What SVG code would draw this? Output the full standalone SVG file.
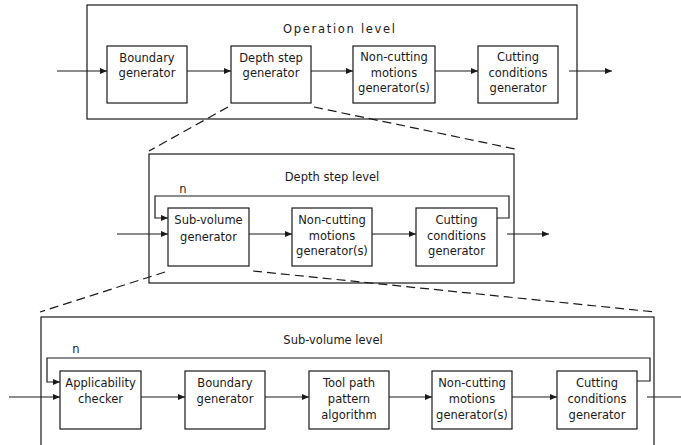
<svg xmlns="http://www.w3.org/2000/svg" width="681" height="445" viewBox="0 0 681 445">
<defs>
<marker id="ah" markerUnits="userSpaceOnUse" markerWidth="8" markerHeight="6" refX="7" refY="3" orient="auto">
<path d="M0,0 L7,3 L0,6 Z" fill="#1a1a1a"/>
</marker>
<style>
rect{fill:#fff;stroke:#1a1a1a;stroke-width:1.2}
.c line,.c path{stroke:#1a1a1a;stroke-width:1.2;fill:none}
.a{marker-end:url(#ah)}
.d{stroke-dasharray:9 5}
text{font-family:"DejaVu Sans","Liberation Sans",sans-serif;font-size:11.5px;fill:#1a1a1a;text-anchor:middle}
.t{text-anchor:start}
</style>
</defs>
<rect width="681" height="445" style="fill:#fff;stroke:none"/>

<g id="operation-level">
<rect x="87" y="5" width="490" height="114"/>
<text class="t" x="283" y="33" letter-spacing="1.7">Operation level</text>
</g>
<g id="op-boundary"><rect x="107" y="46" width="80" height="57"/><text x="147" y="62">Boundary</text><text x="147" y="77">generator</text></g>
<g id="op-depth"><rect x="231" y="46" width="80" height="57"/><text x="271" y="62">Depth step</text><text x="271" y="77">generator</text></g>
<g id="op-noncut"><rect x="353" y="46" width="82" height="57"/><text x="394" y="61">Non-cutting</text><text x="394" y="77">motions</text><text x="394" y="92">generator(s)</text></g>
<g id="op-cutting"><rect x="478" y="46" width="80" height="57"/><text x="518" y="61">Cutting</text><text x="518" y="77">conditions</text><text x="518" y="92">generator</text></g>

<g id="depth-level">
<rect x="149" y="154" width="365" height="129"/>
<text x="332" y="181">Depth step level</text>
</g>
<g id="ds-subvol"><rect x="168" y="208" width="81" height="58"/><text x="208.5" y="224">Sub-volume</text><text x="208.5" y="241">generator</text></g>
<g id="ds-noncut"><rect x="292" y="208" width="80" height="58"/><text x="332" y="224">Non-cutting</text><text x="332" y="240">motions</text><text x="332" y="255">generator(s)</text></g>
<g id="ds-cutting"><rect x="416" y="208" width="81" height="58"/><text x="456.5" y="224">Cutting</text><text x="456.5" y="240">conditions</text><text x="456.5" y="255">generator</text></g>

<g id="subvolume-level">
<rect x="41" y="317" width="613" height="140"/>
<text x="333" y="344">Sub-volume level</text>
</g>
<g id="sv-applic"><rect x="60" y="371" width="81" height="58"/><text x="100.5" y="387">Applicability</text><text x="100.5" y="403">checker</text></g>
<g id="sv-boundary"><rect x="185" y="371" width="80" height="58"/><text x="225" y="387">Boundary</text><text x="225" y="403">generator</text></g>
<g id="sv-toolpath"><rect x="309" y="371" width="80" height="58"/><text x="349" y="387">Tool path</text><text x="349" y="403">pattern</text><text x="349" y="419">algorithm</text></g>
<g id="sv-noncut"><rect x="432" y="371" width="80" height="58"/><text x="472" y="387">Non-cutting</text><text x="472" y="403">motions</text><text x="472" y="419">generator(s)</text></g>
<g id="sv-cutting"><rect x="557" y="371" width="80" height="58"/><text x="597" y="387">Cutting</text><text x="597" y="403">conditions</text><text x="597" y="419">generator</text></g>

<g id="connectors" class="c">
<line class="a" x1="57" y1="71" x2="107" y2="71"/>
<line class="a" x1="187" y1="71" x2="231" y2="71"/>
<line class="a" x1="311" y1="71" x2="353" y2="71"/>
<line class="a" x1="435" y1="71" x2="478" y2="71"/>
<line class="a" x1="569" y1="71" x2="612" y2="71"/>

<line class="a" x1="117" y1="234" x2="168" y2="234"/>
<line class="a" x1="249" y1="234" x2="292" y2="234"/>
<line class="a" x1="372" y1="234" x2="416" y2="234"/>
<line class="a" x1="507" y1="234" x2="549" y2="234"/>
<path class="a" d="M497,218 H509 V196 H155 V218 H168"/>

<line class="a" x1="9" y1="397" x2="60" y2="397"/>
<line class="a" x1="141" y1="397" x2="185" y2="397"/>
<line class="a" x1="265" y1="397" x2="309" y2="397"/>
<line class="a" x1="389" y1="397" x2="432" y2="397"/>
<line class="a" x1="512" y1="397" x2="557" y2="397"/>
<line x1="647" y1="397" x2="681" y2="397"/>
<path class="a" d="M637,381 H650 V358 H47 V382 H60"/>

<line class="d" x1="228" y1="107" x2="149" y2="151"/>
<line class="d" x1="314" y1="107" x2="515" y2="149"/>
<line class="d" x1="165" y1="272" x2="40" y2="312"/>
<line class="d" x1="253" y1="271" x2="655" y2="312"/>
</g>
<text x="183" y="193">n</text>
<text x="76" y="353">n</text>
</svg>
